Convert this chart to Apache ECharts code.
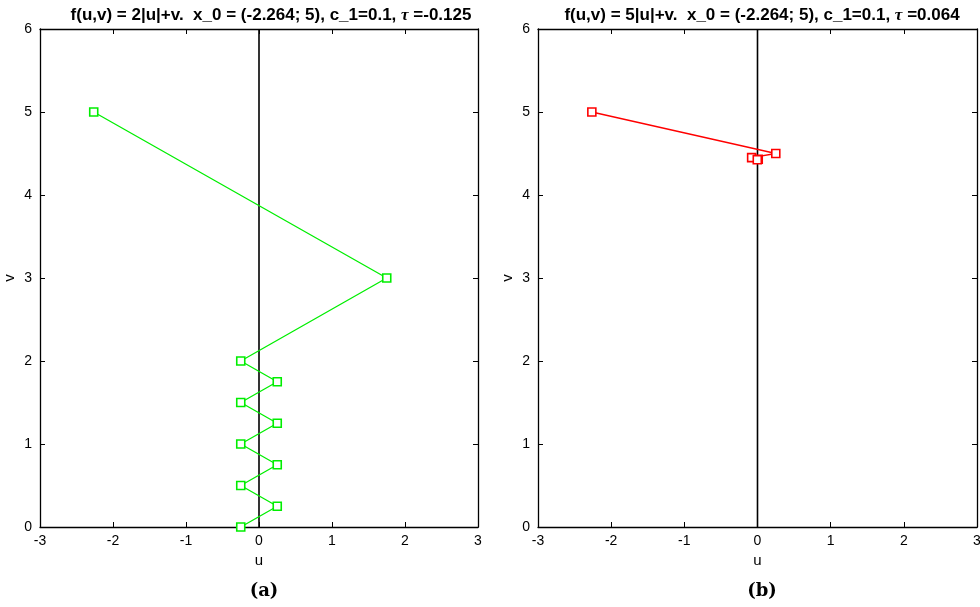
<!DOCTYPE html>
<html><head><meta charset="utf-8">
<script src="https://cdn.jsdelivr.net/npm/echarts@6/dist/echarts.min.js"></script>
<style>html,body{margin:0;padding:0;background:#fff}#c{width:980px;height:607px}</style>
</head><body><div id="c"></div>
<script>
// data
const uA = [-2.264, 1.75, -0.25, 0.25, -0.25, 0.25, -0.25, 0.25, -0.25, 0.25, -0.25];
const vA = [5, 3, 2, 1.75, 1.5, 1.25, 1, 0.75, 0.5, 0.25, 0];
const uB = [-2.264, 0.25, -0.08, 0.01, -0.003];
const vB = [5, 4.5, 4.45, 4.43, 4.425];
const zeroU = [0, 0];
const zeroV = [0, 6];
const xTicks = [-3, -2, -1, 0, 1, 2, 3];
const yTicks = [0, 1, 2, 3, 4, 5, 6];
const titleA = ['f(u,v) = 2|u|+v.  x_0 = (-2.264; 5), c_1=0.1, ', '=-0.125'];
const titleB = ['f(u,v) = 5|u|+v.  x_0 = (-2.264; 5), c_1=0.1, ', '=0.064'];
const captions = ['(a)', '(b)'];

const zip = (a, b) => a.map((x, i) => [x, b[i]]);
const chart = echarts.init(document.getElementById('c'), null, {renderer: 'canvas'});
const F = 'Liberation Sans, Arial, sans-serif';
const grids = [
  {left: 40, right: 502, top: 29, bottom: 80, outerBoundsMode: 'none', containLabel: false},
  {left: 538, right: 3, top: 29, bottom: 80, outerBoundsMode: 'none', containLabel: false}
];
const xAxes = [], yAxes = [];
grids.forEach((g, i) => {
  const base = {type: 'value', min: xTicks[0], max: xTicks[xTicks.length - 1], interval: 1, gridIndex: i,
    axisLine: {show: true, onZero: false, lineStyle: {color: '#000', width: 1.3}},
    axisTick: {inside: true, length: 5, lineStyle: {color: '#000'}},
    splitLine: {show: false}};
  xAxes.push(Object.assign({}, base, {position: 'bottom', name: 'u', nameLocation: 'middle', nameGap: 25,
    nameTextStyle: {fontFamily: F, fontSize: 15, color: '#000'},
    axisLabel: {fontFamily: F, fontSize: 14, color: '#000', margin: 7}}));
  xAxes.push(Object.assign({}, base, {position: 'top', axisLabel: {show: false}}));
  const ybase = {type: 'value', min: yTicks[0], max: yTicks[yTicks.length - 1], interval: 1, gridIndex: i,
    axisLine: {show: true, onZero: false, lineStyle: {color: '#000', width: 1.3}},
    axisTick: {inside: true, length: 5, lineStyle: {color: '#000'}},
    splitLine: {show: false}};
  yAxes.push(Object.assign({}, ybase, {position: 'left', name: 'v', nameLocation: 'middle', nameGap: 23,
    nameTextStyle: {fontFamily: F, fontSize: 15, color: '#000'},
    axisLabel: {fontFamily: F, fontSize: 14, color: '#000', margin: 8}}));
  yAxes.push(Object.assign({}, ybase, {position: 'right', axisLabel: {show: false}}));
});

const mkTitle = (t, x) => ({
  text: '{a|' + t[0] + '}{t|τ}{a| ' + t[1] + '}', left: x, top: 2, textAlign: 'center',
  textStyle: {rich: {
    a: {fontFamily: F, fontWeight: 'bold', fontSize: 17, color: '#000'},
    t: {fontFamily: 'Liberation Serif, serif', fontStyle: 'italic', fontSize: 17, color: '#000'}
  }}
});
const mkCap = (t, x) => ({text: t, left: x, top: 577, textAlign: 'center',
  textStyle: {fontFamily: 'DejaVu Serif, serif', fontWeight: 'bold', fontSize: 18, color: '#000'}});

const pathSeries = (xi, yi, data, color) => ({
  type: 'line', xAxisIndex: xi, yAxisIndex: yi, data: data,
  symbol: 'rect', symbolSize: 8, showSymbol: true,
  itemStyle: {color: '#fff', borderColor: color, borderWidth: 1.6},
  lineStyle: {color: color, width: 1.3}, z: 3, animation: false
});
const zeroSeries = (xi, yi) => ({
  type: 'line', xAxisIndex: xi, yAxisIndex: yi, data: zip(zeroU, zeroV),
  symbol: 'none', lineStyle: {color: '#000', width: 1.6}, z: 2, animation: false
});

chart.setOption({
  backgroundColor: '#fff',
  animation: false,
  title: [mkTitle(titleA, 266), mkTitle(titleB, 757), mkCap(captions[0], 259), mkCap(captions[1], 757)],
  grid: grids,
  xAxis: xAxes,
  yAxis: yAxes,
  series: [
    zeroSeries(0, 0),
    pathSeries(0, 0, zip(uA, vA), '#00ee00'),
    zeroSeries(2, 2),
    pathSeries(2, 2, zip(uB, vB), '#ff0000')
  ]
});
</script></body></html>
